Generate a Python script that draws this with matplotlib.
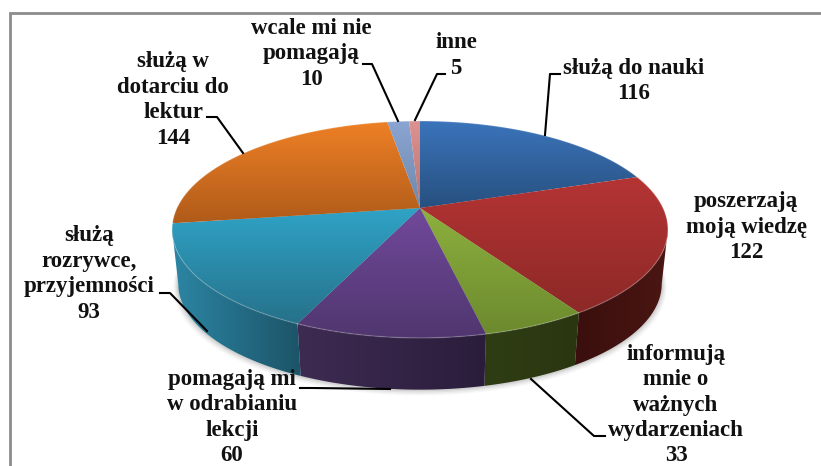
import numpy as np
import matplotlib
matplotlib.use('Agg')
import matplotlib.pyplot as plt
from matplotlib.colors import LinearSegmentedColormap
from matplotlib.patches import Polygon

# values clockwise from 12 o'clock
labels = ['służą do nauki', 'poszerzają\nmoją wiedzę', 'informują\nmnie o\nważnych\nwydarzeniach',
          'pomagają mi\nw odrabianiu\nlekcji', 'służą\nrozrywce,\nprzyjemności',
          'służą w\ndotarciu do\nlektur', 'wcale mi nie\npomagają', 'inne']
values = [116, 122, 33, 60, 93, 144, 10, 5]

top_light = ['#3b74bb', '#b53434', '#8db03e', '#71499b', '#2fa3c6', '#ee8025', '#8aa5d2', '#dd9290']
top_dark = ['#27507f', '#8c2927', '#6c8a2e', '#50366f', '#26718a', '#b05b1a', '#6f88ab', '#b57472']
# only the front slices show a rim: red, green, purple, teal
rim_left = {1: '#3a0f0d', 2: '#2f3d14', 3: '#3e2b52', 4: '#2c86a4'}
rim_right = {1: '#4a1613', 2: '#2a3610', 3: '#2a1d3b', 4: '#1c5468'}

label_x = [634, 746, 676, 232, 89, 173, 311, 456]
label_y = [81, 227, 405, 417.5, 274, 100, 54, 55.5]
leaders = [[(545, 135), (550, 74), (560, 74)],
           None,
           [(531, 379), (594, 436), (605, 436)],
           [(390, 389), (313, 388), (300, 388)],
           [(207, 331), (170, 293), (160, 293)],
           [(243, 153), (217, 117), (207, 117)],
           [(398, 121), (372, 64), (363, 64)],
           [(415, 120), (437, 74), (445, 74)]]

# perspective model of the disc
cx, cy = 420, 208
bx, by, k = 243, 104.2, 0.198
depth_y, depth_s = 55, 0.975


def project(t, dy=0, s=1.0):
    u, v = np.sin(t), np.cos(t)
    w = 1 + k * v
    return np.column_stack((cx + s * bx * u / w, cy + dy - s * by * v / w))


def fill_gradient(ax, pts, c1, c2, vertical=True, z=2):
    cmap = LinearSegmentedColormap.from_list('g', [c1, c2])
    x0, x1 = pts[:, 0].min(), pts[:, 0].max()
    y0, y1 = pts[:, 1].min(), pts[:, 1].max()
    grad = np.linspace(0, 1, 256)
    grad = grad.reshape(-1, 1) if vertical else grad.reshape(1, -1)
    im = ax.imshow(grad, cmap=cmap, extent=(x0, x1, y1, y0), origin='upper',
                   aspect='auto', zorder=z, interpolation='bilinear')
    clip = Polygon(pts, closed=True, transform=ax.transData)
    im.set_clip_path(clip)


fig = plt.figure(figsize=(8.21, 4.66), dpi=100)
ax = fig.add_axes([0, 0, 1, 1])

# frame
ax.plot([9.5, 9.5, 821], [466, 12.5, 12.5], color='#8c8c8c', lw=2, zorder=1, solid_joinstyle='miter')

# soft shadow below the disc
tt = np.linspace(0, 2 * np.pi, 240)
for grow, a in [(8, 0.03), (6, 0.04), (4, 0.05), (2, 0.07)]:
    sh = project(tt, depth_y + grow * 0.4, depth_s + grow / 400)
    ax.add_patch(Polygon(sh, closed=True, fc='black', ec='none', alpha=a, zorder=1.5))

edges = np.cumsum([0] + values) / sum(values) * 2 * np.pi

# the rim is visible between the two tangent points of the disc outline
t_right = np.arccos(-k)
t_left = 2 * np.pi - t_right
for i in rim_left:
    start, end = max(edges[i], t_right), min(edges[i + 1], t_left)
    t = np.linspace(start, end, 80)
    upper = project(t)
    lower = project(t, depth_y, depth_s)
    pts = np.vstack((upper, lower[::-1]))
    fill_gradient(ax, pts, rim_left[i], rim_right[i], vertical=False, z=2)

# top
for i in range(len(values)):
    t = np.linspace(edges[i], edges[i + 1], 80)
    pts = np.vstack(([[cx, cy]], project(t)))
    fill_gradient(ax, pts, top_light[i], top_dark[i], vertical=True, z=3)
    ax.plot(project(t)[:, 0], project(t)[:, 1], color='white', alpha=0.18, lw=1, zorder=3.5)

# labels
font = ['Liberation Serif', 'DejaVu Serif']
for i in range(len(values)):
    ax.text(label_x[i], label_y[i], labels[i] + '\n' + str(values[i]), family=font, weight='bold',
            fontsize=16.5, ha='center', va='center', linespacing=1.28, color='#111111', zorder=6)
    if leaders[i]:
        xs, ys = zip(*leaders[i])
        ax.plot(xs, ys, color='black', lw=1.5, zorder=5)

ax.set_xlim(0, 821)
ax.set_ylim(466, 0)
ax.axis('off')
fig.savefig('out.png', dpi=100, facecolor='white')
